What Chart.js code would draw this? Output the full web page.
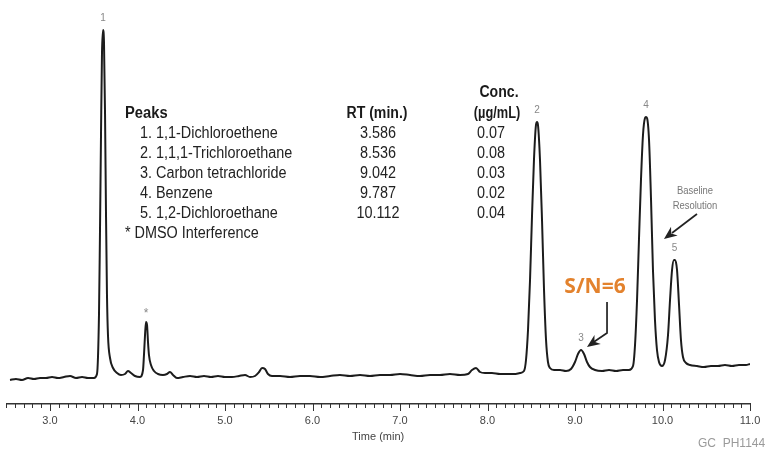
<!DOCTYPE html>
<html>
<head>
<meta charset="utf-8">
<script src="https://cdn.jsdelivr.net/npm/chart.js@4.4.0/dist/chart.umd.min.js"></script>
<style>
	html, body { margin: 0; padding: 0; background: #fff; }
	#wrap { width: 766px; height: 449px; }
</style>
</head>
<body>
<div id="wrap"><canvas id="chart" width="766" height="449"></canvas></div>
<script>
// chromatogram trace (time in min, detector signal in arbitrary units)
var timeMin = [
	2.543, 2.611, 2.680, 2.749, 2.817, 2.886, 2.954, 3.023, 3.091, 3.160, 3.229, 3.297, 3.366, 3.434, 3.503,
	3.537, 3.560, 3.571, 3.583, 3.594, 3.606, 3.617, 3.629, 3.640, 3.651, 3.663, 3.686, 3.720, 3.766, 3.811,
	3.857, 3.891, 3.926, 3.971, 4.029, 4.063, 4.074, 4.086, 4.097, 4.109, 4.120, 4.131, 4.154, 4.189, 4.234,
	4.291, 4.337, 4.371, 4.406, 4.451, 4.520, 4.600, 4.680, 4.760, 4.840, 4.920, 5.000, 5.080, 5.160, 5.229,
	5.286, 5.343, 5.389, 5.423, 5.457, 5.491, 5.537, 5.629, 5.743, 5.857, 5.971, 6.086, 6.200, 6.314, 6.429,
	6.543, 6.657, 6.771, 6.886, 7.000, 7.114, 7.229, 7.343, 7.457, 7.571, 7.686, 7.777, 7.823, 7.869, 7.914,
	7.971, 8.051, 8.143, 8.223, 8.303, 8.371, 8.417, 8.440, 8.463, 8.486, 8.509, 8.531, 8.554, 8.566, 8.577,
	8.600, 8.623, 8.646, 8.669, 8.691, 8.714, 8.760, 8.829, 8.897, 8.954, 9.000, 9.034, 9.069, 9.103, 9.137,
	9.171, 9.229, 9.309, 9.389, 9.469, 9.549, 9.617, 9.663, 9.686, 9.709, 9.731, 9.754, 9.777, 9.800, 9.811,
	9.823, 9.846, 9.869, 9.891, 9.914, 9.937, 9.960, 9.994, 10.029, 10.063, 10.086, 10.109, 10.131, 10.143, 10.166,
	10.189, 10.211, 10.234, 10.269, 10.314, 10.394, 10.474, 10.554, 10.634, 10.714, 10.794, 10.874, 10.954, 11.000
];
var signal = [
	24, 25, 24, 26, 25, 26, 26, 27, 26, 27, 28, 26, 27, 26, 26,
	30, 90, 170, 270, 350, 374, 362, 290, 190, 110, 68, 46, 36, 31, 29,
	30, 33, 31, 28, 27, 34, 49, 69, 82, 79, 62, 49, 39, 33, 30,
	29, 30, 32, 29, 26, 27, 28, 27, 28, 27, 28, 27, 27, 28, 29,
	27, 28, 32, 36, 35, 30, 28, 28, 27, 28, 28, 27, 28, 29, 28,
	29, 28, 29, 29, 30, 29, 28, 29, 29, 30, 29, 30, 34, 36, 32,
	31, 31, 30, 30, 30, 31, 33, 44, 74, 124, 189, 244, 279, 282, 279,
	244, 184, 114, 64, 42, 36, 34, 34, 33, 35, 42, 50, 54, 50, 42,
	37, 34, 33, 34, 33, 34, 34, 38, 59, 104, 164, 224, 269, 286, 287,
	286, 264, 204, 134, 84, 54, 42, 38, 44, 69, 104, 134, 144, 144, 134,
	99, 64, 47, 41, 39, 38, 37, 38, 38, 39, 38, 39, 39, 40
];

var xTickLabels = [3, 4, 5, 6, 7, 8, 9, 10, 11];

// peak table
var peakNames = ['1. 1,1-Dichloroethene', '2. 1,1,1-Trichloroethane', '3. Carbon tetrachloride', '4. Benzene', '5. 1,2-Dichloroethane'];
var peakRT = ['3.586', '8.536', '9.042', '9.787', '10.112'];
var peakConc = ['0.07', '0.08', '0.03', '0.02', '0.04'];

// marks over the peaks
var peakMarks = ['1', '*', '2', '3', '4', '5'];
var peakMarkTimes = [3.606, 4.097, 8.566, 9.069, 9.811, 10.137];
var peakMarkHeights = [374, 82, 282, 54, 287, 144];

var points = timeMin.map(function (t, i) { return { x: t, y: signal[i] }; });

function drawText(ctx, txt, x, y, font, color, align, sx) {
	ctx.save();
	ctx.font = font;
	ctx.fillStyle = color;
	ctx.textAlign = align;
	ctx.textBaseline = 'alphabetic';
	ctx.translate(x, y);
	ctx.scale(sx, 1);
	ctx.fillText(txt, 0, 0);
	ctx.restore();
}

function arrowHead(ctx, fromX, fromY, tipX, tipY, len, half) {
	var a = Math.atan2(tipY - fromY, tipX - fromX);
	ctx.beginPath();
	ctx.moveTo(tipX, tipY);
	ctx.lineTo(tipX - len * Math.cos(a) + half * Math.sin(a), tipY - len * Math.sin(a) - half * Math.cos(a));
	ctx.lineTo(tipX - len * 0.7 * Math.cos(a), tipY - len * 0.7 * Math.sin(a));
	ctx.lineTo(tipX - len * Math.cos(a) - half * Math.sin(a), tipY - len * Math.sin(a) + half * Math.cos(a));
	ctx.closePath();
	ctx.fill();
}

var overlayPlugin = {
	id: 'overlay',
	afterDraw: function (chart) {
		var ctx = chart.ctx;
		var xs = chart.scales.x, ys = chart.scales.y;
		var px = function (t) { return xs.getPixelForValue(t); };
		var py = function (v) { return ys.getPixelForValue(v); };

		// minor / major tick marks along the time axis
		ctx.save();
		ctx.strokeStyle = '#333';
		ctx.lineWidth = 1;
		for (var k = 25; k <= 110; k++) {
			var tx = Math.round(px(k / 10)) + 0.5;
			var len = (k % 10 === 0) ? 7 : 4;
			ctx.beginPath();
			ctx.moveTo(tx, xs.top);
			ctx.lineTo(tx, xs.top + len);
			ctx.stroke();
		}
		ctx.restore();

		// peak numbers
		for (var i = 0; i < peakMarks.length; i++) {
			ctx.save();
			ctx.font = (peakMarks[i] === '*' ? '12px' : '10px') + ' "Liberation Sans", Arial, sans-serif';
			ctx.fillStyle = '#888';
			ctx.textAlign = 'center';
			ctx.textBaseline = 'middle';
			ctx.fillText(peakMarks[i], px(peakMarkTimes[i]), py(peakMarkHeights[i]) - (peakMarks[i] === '*' ? 8 : 12));
			ctx.restore();
		}

		// peak table
		var bold = 'bold 16px "Liberation Sans", Arial, sans-serif';
		var reg = '16px "Liberation Sans", Arial, sans-serif';
		drawText(ctx, 'Peaks', 125, 118, bold, '#1a1a1a', 'left', 0.92);
		drawText(ctx, 'RT (min.)', 377, 118, bold, '#1a1a1a', 'center', 0.88);
		drawText(ctx, 'Conc.', 499, 97, bold, '#1a1a1a', 'center', 0.88);
		drawText(ctx, '(\u00b5g/mL)', 497, 118, bold, '#1a1a1a', 'center', 0.8);
		for (var r = 0; r < peakNames.length; r++) {
			var by = 138 + r * 20;
			drawText(ctx, peakNames[r], 140, by, reg, '#222', 'left', 0.9);
			drawText(ctx, peakRT[r], 378, by, reg, '#222', 'center', 0.9);
			drawText(ctx, peakConc[r], 491, by, reg, '#222', 'center', 0.9);
		}
		drawText(ctx, '* DMSO Interference', 125, 238, reg, '#222', 'left', 0.9);

		// S/N annotation
		drawText(ctx, 'S/N=6', px(9.229), 293, 'bold 21px "Open Sans", "Liberation Sans", sans-serif', '#e3822d', 'center', 1);
		ctx.save();
		ctx.strokeStyle = '#222';
		ctx.fillStyle = '#222';
		ctx.lineWidth = 1.7;
		var a0x = px(9.366), a0y = py(102), a1y = py(71);
		var tipX = px(9.137), tipY = py(57);
		ctx.beginPath();
		ctx.moveTo(a0x, a0y);
		ctx.lineTo(a0x, a1y);
		ctx.lineTo(tipX + 6, tipY - 4.5);
		ctx.stroke();
		arrowHead(ctx, a0x, a1y, tipX, tipY, 13, 5.5);

		// baseline resolution annotation
		var b0x = px(10.394), b0y = py(190);
		var btx = px(10.017), bty = py(165);
		ctx.beginPath();
		ctx.moveTo(b0x, b0y);
		ctx.lineTo(btx + 8, bty - 6);
		ctx.stroke();
		arrowHead(ctx, b0x, b0y, btx, bty, 13, 5.5);
		ctx.restore();
		drawText(ctx, 'Baseline', 695, 194, '10.5px "Liberation Sans", Arial, sans-serif', '#777', 'center', 0.9);
		drawText(ctx, 'Resolution', 695, 209, '10.5px "Liberation Sans", Arial, sans-serif', '#777', 'center', 0.9);

		// figure code
		drawText(ctx, 'GC_PH1144', 698, 447, '12px "Liberation Sans", Arial, sans-serif', '#9a9a9a', 'left', 1);
	}
};

var chart = new Chart(document.getElementById('chart').getContext('2d'), {
	type: 'line',
	data: {
		datasets: [{
			data: points,
			borderColor: '#1c1c1c',
			borderWidth: 2,
			pointRadius: 0,
			fill: false,
			cubicInterpolationMode: 'monotone'
		}]
	},
	options: {
		responsive: false,
		devicePixelRatio: 1,
		animation: false,
		layout: { padding: { left: 6.25, right: 16, top: 4, bottom: 0 } },
		plugins: { legend: { display: false }, tooltip: { enabled: false } },
		scales: {
			x: {
				type: 'linear',
				min: 2.5,
				max: 11.0,
				afterBuildTicks: function (scale) {
					scale.ticks = xTickLabels.map(function (v) { return { value: v }; });
				},
				ticks: {
					autoSkip: false,
					maxRotation: 0,
					padding: 2,
					color: '#444',
					font: { family: '"Liberation Sans", Arial, sans-serif', size: 11 },
					callback: function (v) { return Number(v).toFixed(1); }
				},
				grid: { display: false, drawTicks: true, tickLength: 8 },
				border: { display: true, color: '#333', width: 1.5 },
				title: {
					display: true,
					text: 'Time (min)',
					color: '#444',
					font: { family: '"Liberation Sans", Arial, sans-serif', size: 11 },
					padding: { top: 1.6, bottom: 5 }
				}
			},
			y: { display: false, min: 0, max: 400 }
		}
	},
	plugins: [overlayPlugin]
});
</script>
</body>
</html>
